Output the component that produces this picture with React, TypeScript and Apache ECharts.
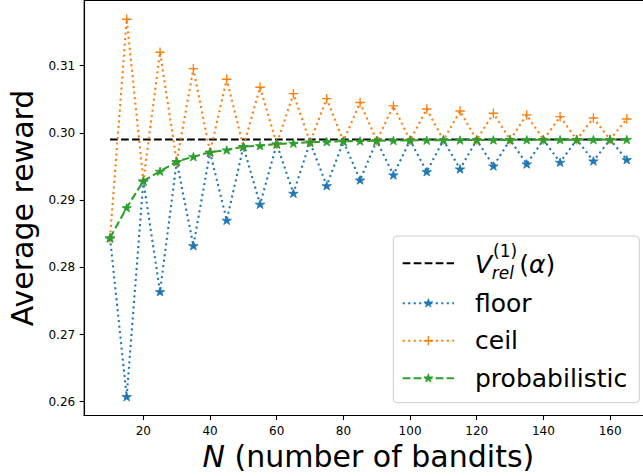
import React, { useEffect, useRef } from "react";
import * as echarts from "echarts";

// ---- data ----
const bandits = [10, 15, 20, 25, 30, 35, 40, 45, 50, 55, 60, 65, 70, 75, 80, 85, 90, 95, 100, 105, 110, 115, 120, 125, 130, 135, 140, 145, 150, 155, 160, 165];
const floorVals = [0.28436, 0.26076, 0.29283, 0.27637, 0.2957, 0.28321, 0.2971, 0.28699, 0.29793, 0.28937, 0.29833, 0.291, 0.29859, 0.29213, 0.29874, 0.29298, 0.29882, 0.29373, 0.29887, 0.29422, 0.29891, 0.29462, 0.29893, 0.29506, 0.29895, 0.29536, 0.29896, 0.29561, 0.29898, 0.29581, 0.29899, 0.296];
const ceilVals = [0.28436, 0.31688, 0.29283, 0.31197, 0.2957, 0.30953, 0.2971, 0.30796, 0.29793, 0.30677, 0.29833, 0.30581, 0.29859, 0.30507, 0.29874, 0.3045, 0.29882, 0.30399, 0.29887, 0.30354, 0.29891, 0.30324, 0.29893, 0.3029, 0.29895, 0.30265, 0.29896, 0.30239, 0.29898, 0.3022, 0.29899, 0.30205];
const probVals = [0.28436, 0.28886, 0.29283, 0.29427, 0.2957, 0.29645, 0.2971, 0.29744, 0.29793, 0.29808, 0.29833, 0.29844, 0.29859, 0.29868, 0.29874, 0.29878, 0.29882, 0.29885, 0.29887, 0.29889, 0.29891, 0.29892, 0.29893, 0.29894, 0.29895, 0.29896, 0.29896, 0.29897, 0.29898, 0.29898, 0.29899, 0.29899];
const vRel = 0.299;
const xTicks = [20, 40, 60, 80, 100, 120, 140, 160];
const yTicks = [0.26, 0.27, 0.28, 0.29, 0.3, 0.31];

// ---- styles ----
const FONT = "DejaVu Sans";
const C_FLOOR = "#1f77b4";
const C_CEIL = "#ff7f0e";
const C_PROB = "#2ca02c";
const LW = 2.08;
const DOTTED = [2.08, 3.43];
const DASHED = [7.7, 3.3];

const STAR_UNIT = [
  [0, -1], [0.2245, -0.309], [0.9511, -0.309], [0.3633, 0.118], [0.5878, 0.809],
  [0, 0.382], [-0.5878, 0.809], [-0.3633, 0.118], [-0.9511, -0.309], [-0.2245, -0.309],
];
const STAR_PATH = "path://M" + STAR_UNIT.map((p) => `${(p[0] * 100).toFixed(2)},${(p[1] * 100).toFixed(2)}`).join("L") + "Z";
const PLUS_PATH = "path://M-7,-50L7,-50L7,-7L50,-7L50,7L7,7L7,50L-7,50L-7,7L-50,7L-50,-7L-7,-7Z";

function starPoints(cx: number, cy: number, r: number) {
  return STAR_UNIT.map((p) => [cx + p[0] * r, cy + p[1] * r]);
}

export default function App() {
  const ref = useRef<HTMLDivElement>(null);
  useEffect(() => {
    if (!ref.current) return;
    const chart = echarts.init(ref.current, undefined, { renderer: "svg" });

    const lx1 = 402.7, lx2 = 454, lcx = (lx1 + lx2) / 2, tx = 475;
    const rows = [263.3, 303.3, 340.7, 378.3];

    const legend: any[] = [
      {
        type: "rect",
        shape: { x: 393.3, y: 236, width: 246, height: 166.7, r: 4 },
        style: { fill: "rgba(255,255,255,0.8)", stroke: "#cccccc", lineWidth: 1 },
        z: 100,
      },
      { type: "line", shape: { x1: lx1, y1: rows[0], x2: lx2, y2: rows[0] }, style: { stroke: "#000", lineWidth: LW, lineDash: DASHED }, z: 101 },
      { type: "line", shape: { x1: lx1, y1: rows[1], x2: lx2, y2: rows[1] }, style: { stroke: C_FLOOR, lineWidth: LW, lineDash: DOTTED }, z: 101 },
      { type: "polygon", shape: { points: starPoints(lcx, rows[1], 4.6) }, style: { fill: C_FLOOR, stroke: C_FLOOR, lineWidth: 0.8 }, z: 102 },
      { type: "line", shape: { x1: lx1, y1: rows[2], x2: lx2, y2: rows[2] }, style: { stroke: C_CEIL, lineWidth: LW, lineDash: DOTTED }, z: 101 },
      { type: "line", shape: { x1: lcx - 4.7, y1: rows[2], x2: lcx + 4.7, y2: rows[2] }, style: { stroke: C_CEIL, lineWidth: 1.35 }, z: 102 },
      { type: "line", shape: { x1: lcx, y1: rows[2] - 4.7, x2: lcx, y2: rows[2] + 4.7 }, style: { stroke: C_CEIL, lineWidth: 1.35 }, z: 102 },
      { type: "line", shape: { x1: lx1, y1: rows[3], x2: lx2, y2: rows[3] }, style: { stroke: C_PROB, lineWidth: LW, lineDash: DASHED }, z: 101 },
      { type: "polygon", shape: { points: starPoints(lcx, rows[3], 4.6) }, style: { fill: C_PROB, stroke: C_PROB, lineWidth: 0.8 }, z: 102 },
      // V_rel^(1)(alpha)
      { type: "text", x: 475, y: 264, style: { text: "V", fontSize: 25, fontStyle: "italic", fontFamily: FONT, fill: "#000", verticalAlign: "middle", align: "left" }, z: 102 },
      { type: "text", x: 493, y: 251, style: { text: "(1)", fontSize: 17, fontFamily: FONT, fill: "#000", verticalAlign: "middle", align: "left" }, z: 102 },
      { type: "text", x: 491.7, y: 273.4, style: { text: "rel", fontSize: 17, fontStyle: "italic", fontFamily: FONT, fill: "#000", verticalAlign: "middle", align: "left" }, z: 102 },
      {
        type: "text", x: 519.3, y: 264,
        style: {
          text: "{p|(}{a|α}{p|)}", verticalAlign: "middle", align: "left",
          rich: {
            p: { fontSize: 25, fontFamily: FONT, fill: "#000" },
            a: { fontSize: 25, fontFamily: FONT, fontStyle: "italic", fill: "#000" },
          },
        },
        z: 102,
      },
      { type: "text", x: tx, y: 303.65, style: { text: "floor", fontSize: 25, fontFamily: FONT, fill: "#000", verticalAlign: "middle", align: "left" }, z: 102 },
      { type: "text", x: tx, y: 340.65, style: { text: "ceil", fontSize: 25, fontFamily: FONT, fill: "#000", verticalAlign: "middle", align: "left" }, z: 102 },
      { type: "text", x: tx, y: 378, style: { text: "probabilistic", fontSize: 25, fontFamily: FONT, fill: "#000", verticalAlign: "middle", align: "left" }, z: 102 },
    ];

    const option: any = {
      animation: false,
      backgroundColor: "#fff",
      grid: {
        left: 84.2, right: -9.6, top: 0.4, bottom: 60.5,
        show: true, borderColor: "#000", borderWidth: 1.1, backgroundColor: "transparent",
        containLabel: false, outerBoundsMode: "none",
      },
      xAxis: {
        type: "value",
        min: (v: any) => v.min - 0.05 * (v.max - v.min),
        max: (v: any) => v.max + 0.05 * (v.max - v.min),
        splitLine: { show: false },
        axisLine: { lineStyle: { color: "#000", width: 1.1 } },
        axisTick: { show: true, length: 4.5, lineStyle: { color: "#000", width: 1.1 }, customValues: xTicks },
        axisLabel: { customValues: xTicks, fontSize: 12, fontFamily: FONT, color: "#000", margin: 9 },
        name: "{i|N} (number of bandits)",
        nameLocation: "middle",
        nameGap: 23,
        nameTextStyle: {
          fontSize: 30, fontFamily: FONT, color: "#000",
          rich: { i: { fontSize: 30, fontFamily: FONT, fontStyle: "italic", color: "#000" } },
        },
      },
      yAxis: {
        type: "value",
        min: (v: any) => v.min - 0.05 * (v.max - v.min),
        max: (v: any) => v.max + 0.05 * (v.max - v.min),
        splitLine: { show: false },
        axisLine: { show: true, lineStyle: { color: "#000", width: 1.1 } },
        axisTick: { show: true, length: 4.5, lineStyle: { color: "#000", width: 1.1 }, customValues: yTicks },
        axisLabel: {
          customValues: yTicks, fontSize: 12, fontFamily: FONT, color: "#000", margin: 9,
          formatter: (v: number) => v.toFixed(2),
        },
        name: "Average reward",
        nameLocation: "middle",
        nameGap: 43,
        nameTextStyle: { fontSize: 30, fontFamily: FONT, color: "#000" },
      },
      series: [
        {
          type: "line", name: "V_rel", data: [[bandits[0], vRel], [bandits[bandits.length - 1], vRel]],
          symbol: "none", lineStyle: { color: "#000", width: LW, type: DASHED }, silent: true,
        },
        {
          type: "line", name: "floor", data: bandits.map((n, i) => [n, floorVals[i]]),
          symbol: STAR_PATH, symbolSize: [9.5, 9], symbolKeepAspect: true, showAllSymbol: true,
          itemStyle: { color: C_FLOOR, borderColor: C_FLOOR, borderWidth: 0.8 },
          lineStyle: { color: C_FLOOR, width: LW, type: DOTTED }, silent: true,
        },
        {
          type: "line", name: "ceil", data: bandits.map((n, i) => [n, ceilVals[i]]),
          symbol: PLUS_PATH, symbolSize: 9.5, showAllSymbol: true,
          itemStyle: { color: C_CEIL, borderWidth: 0 },
          lineStyle: { color: C_CEIL, width: LW, type: DOTTED }, silent: true,
        },
        {
          type: "line", name: "probabilistic", data: bandits.map((n, i) => [n, probVals[i]]),
          symbol: STAR_PATH, symbolSize: [9.5, 9], symbolKeepAspect: true, showAllSymbol: true,
          itemStyle: { color: C_PROB, borderColor: C_PROB, borderWidth: 0.8 },
          lineStyle: { color: C_PROB, width: LW, type: DASHED }, silent: true,
        },
      ],
      graphic: legend,
    };
    chart.setOption(option);
    return () => chart.dispose();
  }, []);
  return <div ref={ref} style={{ position: "fixed", left: 0, top: 0, width: 643, height: 476 }} />;
}
